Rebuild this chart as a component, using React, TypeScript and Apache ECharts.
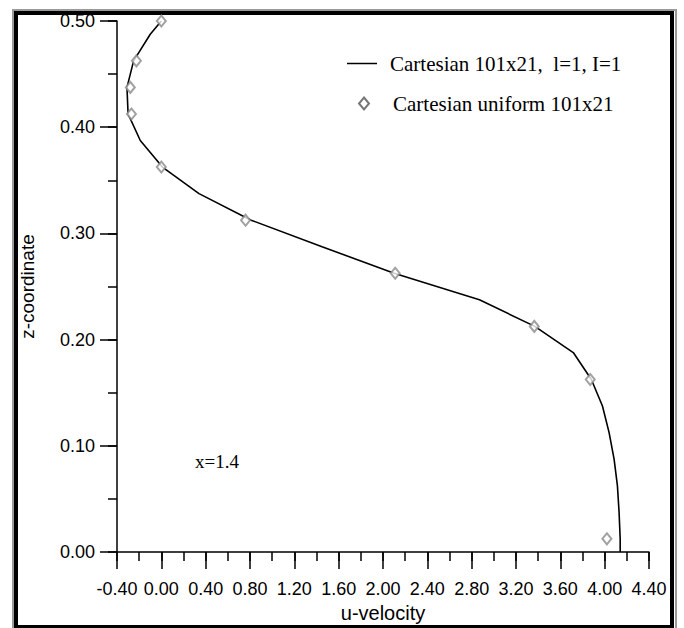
import React, { useEffect, useRef } from "react";
import * as echarts from "echarts";

const zLine = [0.5, 0.4875, 0.4625, 0.4375, 0.4125, 0.3875, 0.3625, 0.3375, 0.3125, 0.2875, 0.2625, 0.2375, 0.2125, 0.1875, 0.1625, 0.1375, 0.1125, 0.0875, 0.0625, 0.0375, 0.0125, 0.0];
const uLine = [0.0, -0.1, -0.25, -0.31, -0.3, -0.19, 0.01, 0.34, 0.81, 1.45, 2.1, 2.87, 3.37, 3.72, 3.88, 3.98, 4.04, 4.085, 4.115, 4.13, 4.14, 4.14];

const zMarkers = [0.5, 0.4625, 0.4375, 0.4125, 0.3625, 0.3125, 0.2625, 0.2125, 0.1625, 0.0125];
const uMarkers = [0.0, -0.225, -0.28, -0.27, 0.0, 0.76, 2.11, 3.365, 3.87, 4.02];

const lineName = "Cartesian 101x21,  l=1, I=1";
const markerName = "Cartesian uniform 101x21";
const annotation = "x=1.4";
const xTitle = "u-velocity";
const yTitle = "z-coordinate";

export default function App() {
  const ref = useRef<HTMLDivElement>(null);
  useEffect(() => {
    if (!ref.current) return;
    const chart = echarts.init(ref.current, null, { renderer: "svg" });
    const sans = "Liberation Sans";
    const serif = "Liberation Serif";
    const tickLine = { color: "#000", width: 1.5 };
    chart.setOption({
      animation: false,
      backgroundColor: "#fff",
      grid: { left: 117, top: 21, right: 35, bottom: 75, containLabel: false },
      xAxis: [
        {
          type: "value",
          min: -0.4,
          max: 4.4,
          interval: 0.4,
          name: xTitle,
          nameLocation: "middle",
          nameGap: 48,
          nameTextStyle: { fontFamily: sans, fontSize: 20, color: "#000" },
          axisLine: { show: true, onZero: false, lineStyle: tickLine },
          axisTick: { show: true, length: 17, lineStyle: tickLine },
          axisLabel: { margin: 28, fontFamily: sans, fontSize: 18, color: "#000", formatter: (v: number) => v.toFixed(2) },
          splitLine: { show: false },
        },
        {
          type: "value",
          position: "bottom",
          min: -0.4,
          max: 4.4,
          interval: 0.2,
          axisLine: { show: false, onZero: false },
          axisTick: { show: true, length: 9, lineStyle: tickLine },
          axisLabel: { show: false },
          splitLine: { show: false },
        },
      ],
      yAxis: [
        {
          type: "value",
          min: 0,
          max: 0.5,
          interval: 0.1,
          name: yTitle,
          nameLocation: "middle",
          nameGap: 80,
          nameRotate: 90,
          nameTextStyle: { fontFamily: sans, fontSize: 19, color: "#000" },
          axisLine: { show: true, onZero: false, lineStyle: tickLine },
          axisTick: { show: true, length: 17, lineStyle: tickLine },
          axisLabel: { margin: 22, fontFamily: sans, fontSize: 18, color: "#000", formatter: (v: number) => v.toFixed(2) },
          splitLine: { show: false },
        },
        {
          type: "value",
          position: "left",
          min: 0,
          max: 0.5,
          interval: 0.05,
          axisLine: { show: false, onZero: false },
          axisTick: { show: true, length: 9, lineStyle: tickLine },
          axisLabel: { show: false },
          splitLine: { show: false },
        },
      ],
      legend: [
        {
          data: [{ name: lineName, icon: "rect" }],
          left: 342,
          top: 48,
          itemWidth: 30,
          itemHeight: 1.5,
          itemStyle: { color: "#000" },
          textStyle: { fontFamily: serif, fontSize: 21, color: "#000", padding: [0, 0, 0, 8] },
        },
        {
          data: [{ name: markerName, icon: "emptyDiamond" }],
          left: 353,
          top: 88,
          itemWidth: 10,
          itemHeight: 12,
          itemStyle: { color: "#555", borderColor: "#555", borderWidth: 1 },
          textStyle: { fontFamily: serif, fontSize: 21, color: "#000", padding: [0, 0, 0, 19] },
        },
      ],
      series: [
        {
          name: lineName,
          type: "line",
          xAxisIndex: 0,
          yAxisIndex: 0,
          data: uLine.map((u, i) => [u, zLine[i]]),
          symbol: "none",
          lineStyle: { color: "#000", width: 1.6 },
          itemStyle: { color: "#000" },
          z: 2,
        },
        {
          name: markerName,
          type: "scatter",
          xAxisIndex: 0,
          yAxisIndex: 0,
          data: uMarkers.map((u, i) => [u, zMarkers[i]]),
          symbol: "emptyDiamond",
          symbolSize: [9, 11],
          itemStyle: { color: "#8a8a8a", borderColor: "#8a8a8a", borderWidth: 1 },
          z: 3,
        },
      ],
      graphic: [
        {
          type: "rect",
          shape: { x: 13, y: 10, width: 663, height: 640 },
          style: { fill: "none", stroke: "#9a9a9a", lineWidth: 2 },
          silent: true,
        },
        {
          type: "rect",
          shape: { x: 16, y: 13, width: 656, height: 614 },
          style: { fill: "none", stroke: "#000", lineWidth: 4 },
          silent: true,
        },
        {
          type: "text",
          left: 195,
          top: 452,
          style: { text: annotation, fontFamily: serif, fontSize: 19, fill: "#000" },
        },
      ],
    });
    return () => chart.dispose();
  }, []);
  return (
    <div
      ref={ref}
      style={{ position: "absolute", left: 0, top: 0, width: 684, height: 628 }}
    />
  );
}
